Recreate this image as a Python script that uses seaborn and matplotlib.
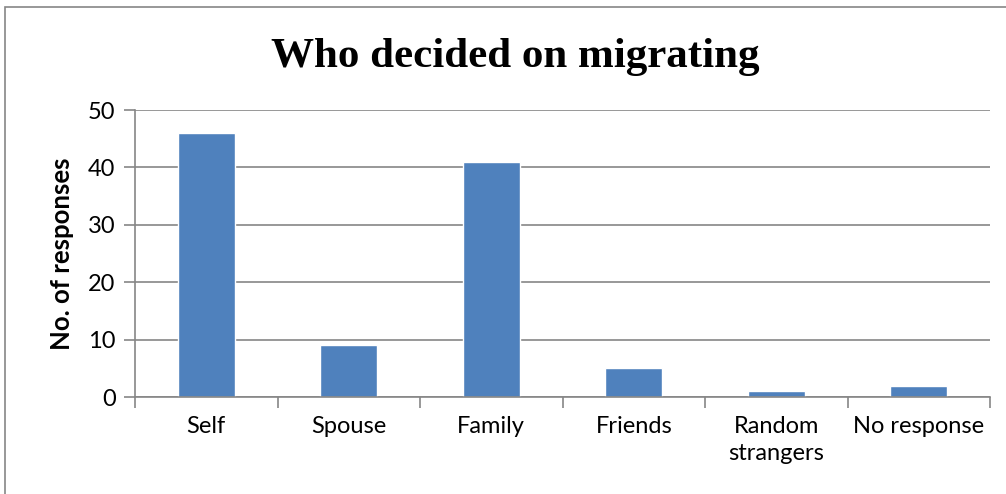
import matplotlib
matplotlib.use("Agg")
import matplotlib.pyplot as plt
import seaborn as sns
import pandas as pd
from matplotlib.patches import Rectangle

categories = ["Self", "Spouse", "Family", "Friends", "Random\nstrangers", "No response"]
responses = [46, 9, 41, 5, 1, 2]
yticks = [0, 10, 20, 30, 40, 50]

df = pd.DataFrame({"cat": categories, "val": responses})

sns.set_theme(style="white")
plt.rcParams['font.family'] = ['Lato', 'DejaVu Sans']
plt.rcParams['text.color'] = 'black'
plt.rcParams['axes.labelcolor'] = 'black'
plt.rcParams['xtick.color'] = 'black'
plt.rcParams['ytick.color'] = 'black'

fig = plt.figure(figsize=(10.06, 4.94), dpi=100)
ax = fig.add_axes([135/1006, 1-397/494, (990-135)/1006, (397-110)/494])

sns.barplot(data=df, x="cat", y="val", color="#4F81BD", saturation=1, width=0.4, ax=ax)

ax.set_ylim(0, 50)
ax.set_xlim(-0.5, len(categories)-0.5)
ax.set_yticks(yticks)
ax.set_yticklabels([str(v) for v in yticks], fontsize=17)
ax.yaxis.grid(True, color="#868686", linewidth=1.2)
ax.set_axisbelow(True)

ax.set_xticks(range(len(categories)))
ax.set_xticklabels(categories, fontsize=17, linespacing=1.35)
ax.tick_params(axis='x', which='major', bottom=True, length=0, pad=14)
# boundary ticks
ax.set_xticks([i - 0.5 for i in range(len(categories)+1)], minor=True)
ax.tick_params(axis='x', which='minor', bottom=True, length=8, width=1.2, color="#868686", direction='out')
ax.tick_params(axis='y', left=True, length=8, width=1.2, color="#868686", labelcolor="black", direction='out', pad=6)

for s in ["top", "right"]:
    ax.spines[s].set_visible(False)
for s in ["left", "bottom"]:
    ax.spines[s].set_color("#868686")
    ax.spines[s].set_linewidth(1.2)

ax.set_xlabel("")
ax.set_ylabel("No. of responses", fontsize=18.5, fontweight="bold", labelpad=10, color="black")

fig.text(515/1006, 1-57/494, "Who decided on migrating", ha="center", va="center",
         fontsize=31, fontweight="bold", color="black", family=["Liberation Serif", "DejaVu Serif"])

fig.patches.append(Rectangle((5/1006, -0.1), 1.2, 1 - 7/494 + 0.1, transform=fig.transFigure,
                             fill=False, edgecolor="#868686", linewidth=1.2))

fig.savefig("out.png", dpi=100)
